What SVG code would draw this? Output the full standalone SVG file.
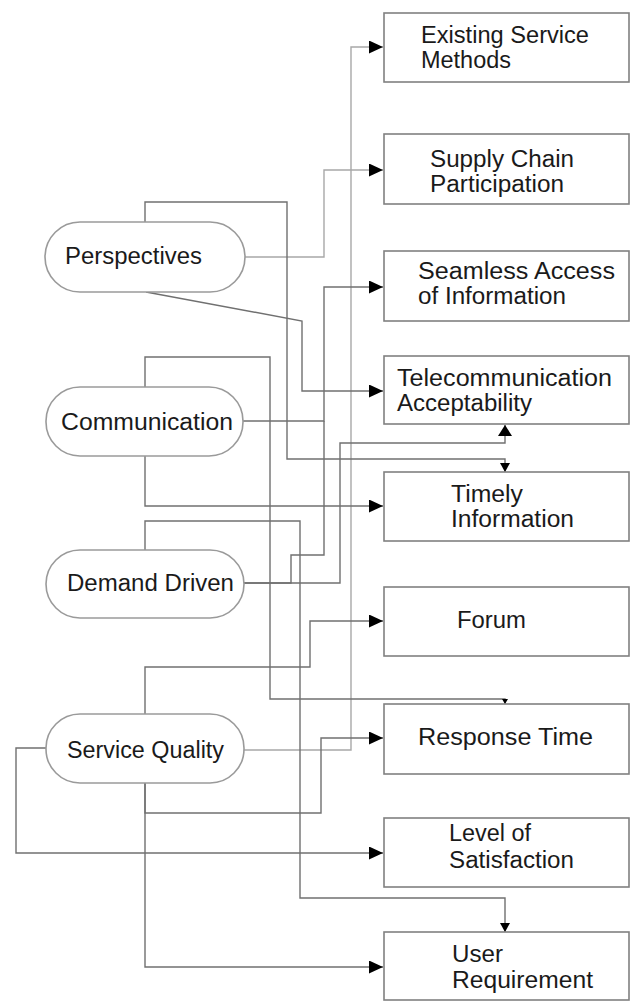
<svg xmlns="http://www.w3.org/2000/svg" width="634" height="1001" viewBox="0 0 634 1001">
<style>
.box{fill:#fff;stroke:#808080;stroke-width:1.6}
.node{fill:#fff;stroke:#9a9a9a;stroke-width:1.6}
.t{font-family:"Liberation Sans",Arial,sans-serif;font-size:23px;fill:#1a1a1a}
.c{fill:none;stroke:#707070;stroke-width:1.4}
.lt{stroke:#a8a8a8}
</style>
<defs>
<marker id="ah" markerUnits="userSpaceOnUse" markerWidth="14" markerHeight="13" refX="14" refY="6.5" orient="auto"><path d="M0,0 L14,6.5 L0,13 z" fill="#000"/></marker>
<marker id="as" markerUnits="userSpaceOnUse" markerWidth="12" markerHeight="14" refX="11" refY="7" orient="auto"><path d="M0,0 L11,7 L0,14 z" fill="#000"/></marker>
<marker id="ad" markerUnits="userSpaceOnUse" markerWidth="10" markerHeight="10" refX="9" refY="5" orient="auto"><path d="M0,0 L9,5 L0,10 z" fill="#000"/></marker>
<marker id="dt" markerUnits="userSpaceOnUse" markerWidth="6" markerHeight="6" refX="5" refY="3" orient="auto"><path d="M0,0 L5,3 L0,6 z" fill="#000"/></marker>
</defs>
<g id="connectors">
<path class="c lt" d="M243,750 H351 V47 H383" marker-end="url(#ah)"/>
<path class="c lt" d="M245,257 H324 V170 H383" marker-end="url(#ah)"/>
<path class="c" d="M242,421 H324 V287 H383" marker-end="url(#ah)"/>
<path class="c" d="M243,583 H291 V555 H324 V421"/>
<path class="c" d="M146,292 L302,321 V391 H383" marker-end="url(#ah)"/>
<path class="c" d="M145,222 V202 H287 V459 H505 V472" marker-end="url(#ad)"/>
<path class="c" d="M243,583 H340 V443 H505 V425" marker-end="url(#as)"/>
<path class="c" d="M145,387 V357 H270 V699 H505 V704" marker-end="url(#dt)"/>
<path class="c" d="M145,455 V506 H383" marker-end="url(#ah)"/>
<path class="c" d="M145,550 V521 H300 V898 H505 V932" marker-end="url(#ad)"/>
<path class="c" d="M145,714 V667 H310 V621 H383" marker-end="url(#ah)"/>
<path class="c" d="M145,783 V813 H321 V738 H383" marker-end="url(#ah)"/>
<path class="c" d="M145,783 V967 H383" marker-end="url(#ah)"/>
<path class="c" d="M46,748 H16 V853 H383" marker-end="url(#ah)"/>
</g>
<g id="perspectives"><rect class="node" x="45" y="222" width="200" height="70" rx="35"/><text class="t" x="65" y="264" textLength="137" lengthAdjust="spacingAndGlyphs">Perspectives</text></g>
<g id="communication"><rect class="node" x="46" y="387" width="197" height="69" rx="34"/><text class="t" x="61" y="430" textLength="172" lengthAdjust="spacingAndGlyphs">Communication</text></g>
<g id="demand-driven"><rect class="node" x="46" y="550" width="198" height="68" rx="34"/><text class="t" x="67" y="591" textLength="167" lengthAdjust="spacingAndGlyphs">Demand Driven</text></g>
<g id="service-quality"><rect class="node" x="46" y="714" width="198" height="69" rx="34"/><text class="t" x="67" y="758" textLength="157" lengthAdjust="spacingAndGlyphs">Service Quality</text></g>
<g id="existing-service-methods"><rect class="box" x="384" y="13" width="245" height="69"/><text class="t" x="421" y="43" textLength="168" lengthAdjust="spacingAndGlyphs">Existing Service</text><text class="t" x="421" y="68" textLength="90" lengthAdjust="spacingAndGlyphs">Methods</text></g>
<g id="supply-chain-participation"><rect class="box" x="384" y="134" width="245" height="70"/><text class="t" x="430" y="167" textLength="144" lengthAdjust="spacingAndGlyphs">Supply Chain</text><text class="t" x="430" y="192" textLength="134" lengthAdjust="spacingAndGlyphs">Participation</text></g>
<g id="seamless-access"><rect class="box" x="384" y="251" width="245" height="70"/><text class="t" x="418" y="279" textLength="197" lengthAdjust="spacingAndGlyphs">Seamless Access</text><text class="t" x="418" y="304" textLength="148" lengthAdjust="spacingAndGlyphs">of Information</text></g>
<g id="telecommunication-acceptability"><rect class="box" x="384" y="356" width="245" height="68"/><text class="t" x="397" y="386" textLength="215" lengthAdjust="spacingAndGlyphs">Telecommunication</text><text class="t" x="397" y="411" textLength="135" lengthAdjust="spacingAndGlyphs">Acceptability</text></g>
<g id="timely-information"><rect class="box" x="384" y="472" width="245" height="69"/><text class="t" x="451" y="502" textLength="72" lengthAdjust="spacingAndGlyphs">Timely</text><text class="t" x="451" y="527" textLength="123" lengthAdjust="spacingAndGlyphs">Information</text></g>
<g id="forum"><rect class="box" x="384" y="587" width="245" height="69"/><text class="t" x="457" y="628" textLength="69" lengthAdjust="spacingAndGlyphs">Forum</text></g>
<g id="response-time"><rect class="box" x="384" y="704" width="245" height="70"/><text class="t" x="418" y="745" textLength="175" lengthAdjust="spacingAndGlyphs">Response Time</text></g>
<g id="level-of-satisfaction"><rect class="box" x="384" y="818" width="245" height="69"/><text class="t" x="449" y="841" textLength="82" lengthAdjust="spacingAndGlyphs">Level of</text><text class="t" x="449" y="868" textLength="125" lengthAdjust="spacingAndGlyphs">Satisfaction</text></g>
<g id="user-requirement"><rect class="box" x="384" y="932" width="245" height="68"/><text class="t" x="452" y="962" textLength="51" lengthAdjust="spacingAndGlyphs">User</text><text class="t" x="452" y="988" textLength="141" lengthAdjust="spacingAndGlyphs">Requirement</text></g>
</svg>
